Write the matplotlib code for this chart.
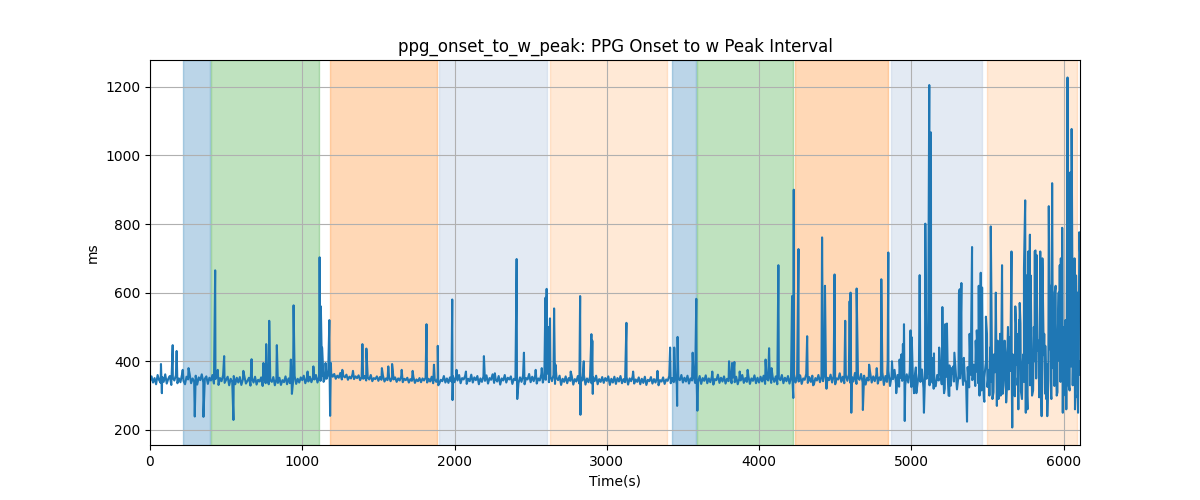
import matplotlib
matplotlib.use('Agg')
import matplotlib.pyplot as plt

# baseline samples every 10 s
base_values = [
    342, 356, 338, 351, 333, 360, 345, 337, 354, 340, 362, 335, 349, 357, 331, 352, 344, 359, 336, 350,
    339, 361, 343, 333, 355, 347, 364, 336, 350, 341, 358, 332, 353, 345, 362, 338, 349, 356, 334, 352,
    344, 360, 335, 348, 357, 331, 351, 342, 359, 337, 346, 355, 330, 349, 340, 357, 333, 352, 338, 354,
    331, 347, 356, 335, 343, 352, 329, 350, 338, 355, 332, 346, 341, 353, 328, 349, 336, 351, 333, 345,
    340, 354, 330, 348, 337, 352, 331, 345, 339, 356, 333, 350, 336, 347, 342, 357, 334, 349, 338, 353,
    345, 358, 336, 350, 341, 355, 339, 352, 347, 360, 338, 354, 343, 357, 340, 352, 349, 362, 351, 365,
    355, 363, 349, 358, 352, 366, 347, 357, 353, 361, 346, 355, 350, 362, 348, 356, 351, 359, 345, 354,
    349, 357, 344, 353, 347, 360, 342, 351, 348, 356, 343, 354, 346, 358, 341, 350, 345, 355, 342, 352,
    347, 353, 340, 350, 344, 356, 339, 349, 345, 352, 338, 348, 343, 354, 337, 347, 342, 351, 339, 350,
    344, 352, 338, 349, 341, 355, 336, 347, 340, 351, 335, 346, 342, 357, 338, 350, 337, 353, 341, 356,
    339, 355, 344, 360, 336, 351, 347, 358, 334, 349, 342, 361, 338, 353, 345, 357, 333, 350, 340, 356,
    343, 359, 335, 351, 346, 362, 337, 348, 341, 357, 332, 350, 344, 360, 338, 352, 347, 356, 334, 349,
    345, 361, 336, 353, 340, 358, 333, 351, 347, 363, 339, 355, 342, 359, 335, 350, 344, 362, 338, 357,
    346, 364, 339, 355, 342, 360, 334, 352, 345, 358, 331, 349, 340, 356, 336, 351, 343, 357, 332, 348,
    341, 357, 335, 352, 344, 359, 332, 350, 339, 355, 336, 353, 342, 358, 333, 348, 340, 354, 337, 351,
    343, 356, 331, 349, 338, 355, 334, 351, 341, 357, 336, 348, 339, 354, 332, 350, 342, 356, 335, 347,
    340, 353, 333, 349, 337, 355, 331, 346, 342, 354, 335, 348, 338, 352, 330, 345, 341, 353, 334, 347,
    343, 357, 336, 351, 339, 356, 333, 349, 345, 360, 338, 352, 341, 358, 335, 350, 344, 359, 337, 353,
    340, 357, 334, 351, 343, 359, 336, 350, 339, 355, 332, 348, 345, 361, 337, 352, 341, 356, 335, 349,
    342, 358, 336, 353, 339, 355, 333, 349, 344, 360, 337, 351, 340, 357, 334, 350, 343, 359, 336, 352,
    338, 355, 341, 358, 334, 350, 344, 361, 337, 353, 340, 356, 333, 351, 345, 360, 336, 352, 342, 357,
    335, 353, 343, 362, 338, 355, 341, 359, 334, 350, 346, 363, 337, 354, 340, 358, 332, 351, 344, 360,
    339, 356, 342, 364, 335, 352, 345, 361, 338, 357, 333, 350, 347, 365, 340, 355, 336, 359, 343, 362,
    337, 354, 341, 366, 334, 351, 346, 363, 339, 358, 332, 352, 344, 367, 338, 356, 342, 361, 335, 353,
    345, 368, 331, 357, 340, 372, 328, 355, 348, 375, 334, 360, 326, 352, 343, 378, 330, 362, 338, 370,
    325, 356, 346, 382, 332, 365, 340, 376, 322, 358, 349, 385, 330, 363, 337, 374, 327, 360, 344, 380,
    333, 368, 320, 355, 347, 388, 329, 364, 341, 379, 318, 357, 350, 392, 331, 366, 338, 383, 324, 361,
    345, 390, 328, 370, 336, 395, 315, 362, 352, 402, 325, 375, 340, 398, 310, 368, 348, 405, 322, 380,
    305, 385, 345, 410, 318, 372, 335, 415, 298, 390, 352, 420, 312, 378, 340, 425, 300, 395, 330, 412,
    315, 400, 350, 430, 295, 385, 338, 418, 305, 392, 345, 435, 290, 380, 328, 420, 310, 402, 340, 428,
    300, 395, 350, 440, 315, 385, 330, 425, 295, 410, 360,
]
base_times = list(range(0, 10 * len(base_values), 10))

# individual spikes / dips (time s, ms)
spike_times = [
    72, 78, 149, 175, 215, 253, 294, 351, 428, 445, 487, 548, 613, 667, 745, 763, 783, 833,
    925, 932, 943, 1035, 1073, 1114, 1122, 1130, 1153, 1178, 1183, 1188, 1263, 1333, 1395, 1421,
    1523, 1565, 1590, 1653, 1725, 1816, 1865, 1890, 1893, 1985, 1987, 2013, 2075, 2193, 2265,
    2408, 2412, 2456, 2533, 2573, 2597, 2605, 2615, 2627, 2654, 2663, 2763, 2825, 2827, 2849,
    2899, 2905, 2908, 3129, 3173, 3333, 3416, 3443, 3462, 3465, 3564, 3588, 3595, 3693, 3803,
    3823, 3838, 3873, 3925, 4043, 4066, 4082, 4127, 4217, 4225, 4228, 4259, 4316, 4355, 4414,
    4433, 4443, 4496, 4566, 4595, 4601, 4606, 4641, 4682, 4723, 4773, 4803, 4845, 4849, 4873,
    4901, 4935, 4952, 4957, 4995, 5003, 5018, 5055, 5083, 5092, 5118, 5129, 5143, 5147, 5183,
    5204, 5215, 5223, 5245, 5283, 5318, 5329, 5366, 5383, 5399, 5405, 5423, 5443, 5456, 5462,
    5477, 5513, 5522, 5543, 5555, 5562, 5583, 5596, 5613, 5623, 5643, 5658, 5663, 5693, 5703,
    5712, 5717, 5735, 5748, 5752, 5768, 5779, 5793, 5805, 5816, 5822, 5835, 5847, 5856, 5873,
    5893, 5903, 5913, 5925, 5935, 5955, 5968, 5975, 5991, 5995, 6005, 6026, 6033, 6043, 6053,
    6063, 6067, 6075, 6082, 6088, 6095, 6103, 6108,
]
spike_values = [
    392, 307, 447, 430, 375, 380, 239, 238, 665, 375, 415, 229, 372, 406, 395, 450, 518, 447,
    405, 305, 563, 370, 385, 703, 560, 440, 395, 520, 241, 395, 375, 372, 450, 437,
    380, 385, 392, 375, 372, 508, 390, 445, 330, 580, 287, 375, 370, 415, 365,
    698, 290, 425, 375, 380, 585, 611, 500, 525, 554, 390, 370, 590, 244, 400,
    479, 460, 305, 512, 370, 372, 440, 440, 270, 471, 425, 582, 256, 370, 400,
    395, 398, 370, 375, 405, 438, 380, 680, 590, 293, 900, 727, 473, 330, 761,
    620, 320, 653, 518, 575, 600, 250, 612, 258, 390, 380, 639, 400, 717, 400,
    307, 420, 508, 226, 490, 470, 307, 651, 250, 801, 1205, 1067, 410, 320, 440,
    558, 307, 508, 300, 425, 610, 628, 224, 480, 733, 350, 460, 620, 658, 520,
    290, 300, 793, 420, 600, 270, 480, 680, 460, 280, 430, 720, 207, 480, 260,
    570, 510, 420, 869, 250, 720, 769, 300, 500, 723, 710, 460, 720, 240, 480,
    240, 852, 620, 919, 500, 300, 600, 680, 789, 250, 400, 1227, 330, 950, 1077,
    420, 640, 260, 650, 450, 250, 776, 720,
]

# extra beats in the noisy last part of the recording
burst_times = [
    4923, 4945, 5033, 5149, 5152, 5234, 5250, 5265, 5275, 5313, 5345, 5352, 5430, 5437, 5448,
    5465, 5480, 5490, 5497, 5518, 5533, 5548, 5567, 5573, 5578, 5587, 5605, 5618, 5628, 5635,
    5648, 5667, 5673, 5683, 5688, 5698, 5708, 5727, 5740, 5757, 5763, 5784, 5798, 5810, 5828,
    5843, 5852, 5861, 5880, 5886, 5918, 5942, 5948, 5960, 5982, 5998, 6012, 6018, 6048, 6058,
    6072, 6078, 6091, 6098,
]
burst_values = [
    405, 450, 307, 423, 330, 510, 299, 380, 385, 600, 410, 345, 490, 420, 300,
    615, 282, 530, 480, 440, 290, 400, 460, 290, 430, 300, 330, 420, 320, 500,
    470, 420, 330, 560, 510, 330, 520, 290, 670, 650, 260, 650, 310, 720, 450,
    430, 290, 700, 445, 290, 300, 600, 620, 430, 700, 500, 520, 260, 700, 650,
    700, 300, 600, 400,
]

# protocol phases shaded in the background
span_starts = [217, 401, 1184, 1901, 2625, 3428, 3592, 4237, 4868, 5500]
span_ends = [395, 1112, 1882, 2605, 3395, 3586, 4224, 4849, 5467, 6086]
span_colors = ['tab:blue', 'tab:green', 'tab:orange', 'lightsteelblue', 'tab:orange',
               'tab:blue', 'tab:green', 'tab:orange', 'lightsteelblue', 'tab:orange']
span_alphas = [0.3, 0.3, 0.3, 0.35, 0.17, 0.3, 0.3, 0.3, 0.35, 0.17]

points = sorted(zip(base_times + spike_times + burst_times,
                    base_values + spike_values + burst_values))
times = [p[0] for p in points]
values = [p[1] for p in points]

fig, ax = plt.subplots(figsize=(12, 5), dpi=100)
for s, e, c, a in zip(span_starts, span_ends, span_colors, span_alphas):
    ax.axvspan(s, e, color=c, alpha=a)
ax.plot(times, values, color='tab:blue', linewidth=1.5)
ax.set_xlim(times[0], times[-1])
ax.set_title('ppg_onset_to_w_peak: PPG Onset to w Peak Interval')
ax.set_xlabel('Time(s)')
ax.set_ylabel('ms')
ax.grid(True)

plt.savefig('out.png')
